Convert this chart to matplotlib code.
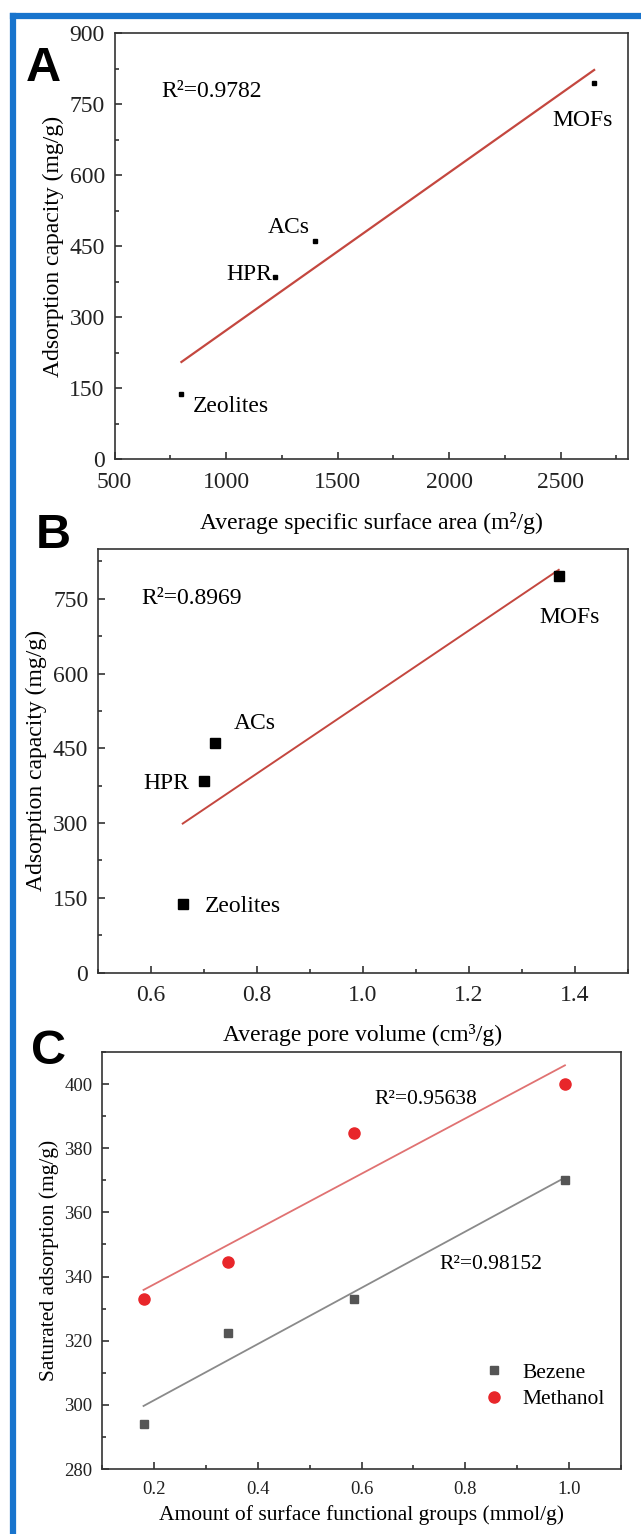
import numpy as np
import matplotlib
matplotlib.use("Agg")
import matplotlib.pyplot as plt
from matplotlib.lines import Line2D
from matplotlib.ticker import MultipleLocator

# --- Dados ---
materials = ["Zeolites", "HPR", "ACs", "MOFs"]
surface_area = [800, 1220, 1400, 2650]        # m2/g
pore_volume = [0.66, 0.70, 0.72, 1.37]        # cm3/g
capacity = [137, 385, 460, 795]               # mg/g

groups = [0.18, 0.343, 0.585, 0.992]          # mmol/g
benzene = [294.0, 322.3, 333.1, 370.2]
methanol = [333.1, 344.6, 384.6, 400.0]

W, H = 641, 1534
plt.rcParams['font.family'] = ['Liberation Serif', 'DejaVu Serif']

fig = plt.figure(figsize=(W / 100, H / 100), dpi=100)

def px_axes(l, t, r, b):
    return fig.add_axes([l / W, 1 - b / H, (r - l) / W, (b - t) / H])

def style_axes(ax, fs):
    for s in ax.spines.values():
        s.set_linewidth(1.2)
        s.set_color('#333333')
    ax.tick_params(which='both', direction='in', top=False, right=False,
                   labelsize=fs, colors='#222222', width=1.1)
    ax.tick_params(which='major', length=5)
    ax.tick_params(which='minor', length=3)
    ax.tick_params(axis='y', which='major', pad=7)
    ax.tick_params(axis='x', which='major', pad=9)

def fit_line(x, y):
    k, b = np.polyfit(x, y, 1)
    xs = np.array([min(x), max(x)])
    return xs, k * xs + b

# --- Painel A ---
axA = px_axes(114.5, 33, 627.6, 459)
xs, ys = fit_line(surface_area, capacity)
axA.plot(xs, ys, color='#c4473f', lw=1.6)
axA.plot(surface_area, capacity, 's', color='black', ms=3)
axA.set_xlim(500, 2800)
axA.set_ylim(0, 900)
axA.xaxis.set_major_locator(MultipleLocator(500))
axA.xaxis.set_minor_locator(MultipleLocator(250))
axA.yaxis.set_major_locator(MultipleLocator(150))
axA.yaxis.set_minor_locator(MultipleLocator(75))
style_axes(axA, 17)
axA.set_ylabel('Adsorption capacity (mg/g)', fontsize=17)
axA.set_xlabel('Average specific surface area (m²/g)', fontsize=17, labelpad=14)
axA.text(709, 776, 'R²=0.9782', fontsize=17, va='center')
axA.text(2464, 715, 'MOFs', fontsize=17, va='center')
axA.text(1187, 490, 'ACs', fontsize=17, va='center')
axA.text(1205, 389, 'HPR', fontsize=17, va='center', ha='right')
axA.text(849, 110, 'Zeolites', fontsize=17, va='center')

# --- Painel B ---
axB = px_axes(98, 549, 627.6, 972.6)
xs, ys = fit_line(pore_volume, capacity)
axB.plot(xs, ys, color='#c4473f', lw=1.4)
axB.plot(pore_volume, capacity, 's', color='black', ms=6.5)
axB.set_xlim(0.5, 1.5)
axB.set_ylim(0, 850)
axB.xaxis.set_major_locator(MultipleLocator(0.2))
axB.xaxis.set_minor_locator(MultipleLocator(0.1))
axB.yaxis.set_major_locator(MultipleLocator(150))
axB.yaxis.set_minor_locator(MultipleLocator(75))
style_axes(axB, 17)
axB.set_ylabel('Adsorption capacity (mg/g)', fontsize=17)
axB.set_xlabel('Average pore volume (cm³/g)', fontsize=17, labelpad=13)
axB.text(0.581, 750, 'R²=0.8969', fontsize=17, va='center')
axB.text(1.333, 713, 'MOFs', fontsize=17, va='center')
axB.text(0.757, 500, 'ACs', fontsize=17, va='center')
axB.text(0.672, 380, 'HPR', fontsize=17, va='center', ha='right')
axB.text(0.701, 133, 'Zeolites', fontsize=17, va='center')

# --- Painel C ---
axC = px_axes(102, 1052, 621, 1469)
xs, ys = fit_line(groups, methanol)
axC.plot(xs, ys, color='#e07272', lw=1.3)
xs, ys = fit_line(groups, benzene)
axC.plot(xs, ys, color='#8a8a8a', lw=1.3)
axC.plot(groups, benzene, 's', color='#555555', ms=6, label='Bezene')
axC.plot(groups, methanol, 'o', color='#e8262a', ms=8, label='Methanol')
axC.set_xlim(0.1, 1.1)
axC.set_ylim(280, 410)
axC.xaxis.set_major_locator(MultipleLocator(0.2))
axC.xaxis.set_minor_locator(MultipleLocator(0.1))
axC.yaxis.set_major_locator(MultipleLocator(20))
axC.yaxis.set_minor_locator(MultipleLocator(10))
style_axes(axC, 13.5)
axC.set_ylabel('Saturated adsorption (mg/g)', fontsize=15.5)
axC.set_xlabel('Amount of surface functional groups (mmol/g)', fontsize=15.5, labelpad=5)
axC.text(0.624, 395.2, 'R²=0.95638', fontsize=15.5, va='center')
axC.text(0.750, 343.6, 'R²=0.98152', fontsize=15.5, va='center')
axC.legend(loc='upper left', bbox_to_anchor=(0.735, 0.255), frameon=False,
           fontsize=15.5, handlelength=1.0, handletextpad=0.8,
           borderpad=0, borderaxespad=0, labelspacing=0.3)

# --- Letras dos painéis ---
for lab, x, y in [('A', 26, 46), ('B', 36, 513), ('C', 31, 1029)]:
    fig.text(x / W, 1 - y / H, lab, fontsize=35, fontweight='bold',
             family='Liberation Sans', va='top', ha='left')

# --- Moldura azul ---
blue = '#1874cd'
fig.add_artist(Line2D([13 / W, 13 / W], [0, 1 - 15.5 / H], color=blue, lw=4.5,
                      transform=fig.transFigure, solid_capstyle='projecting'))
fig.add_artist(Line2D([13 / W, 1], [1 - 15.5 / H, 1 - 15.5 / H], color=blue, lw=4.5,
                      transform=fig.transFigure, solid_capstyle='projecting'))

fig.savefig('out.png', dpi=100)
